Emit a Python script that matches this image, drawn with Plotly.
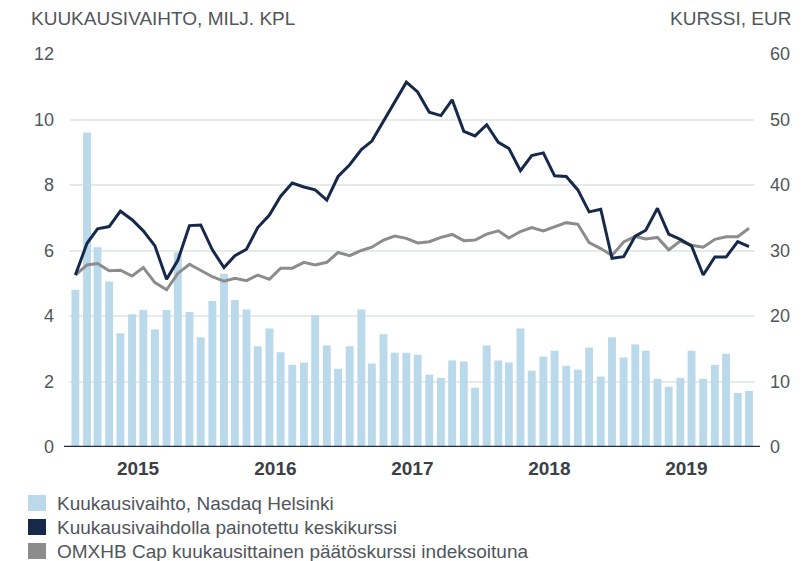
import plotly.graph_objects as go
import pandas as pd

# monthly data, Jan 2015 - Dec 2019
months = [d.strftime("%Y-%m-15") for d in pd.date_range("2015-01-01", "2019-12-01", freq="MS")]

volume = [4.8, 9.6, 6.1, 5.05, 3.47, 4.05, 4.18, 3.59, 4.18, 5.95,
          4.12, 3.35, 4.46, 5.29, 4.49, 4.2, 3.08, 3.62, 2.89, 2.51,
          2.58, 4.02, 3.1, 2.39, 3.08, 4.2, 2.55, 3.44, 2.88, 2.88,
          2.82, 2.21, 2.11, 2.64, 2.61, 1.81, 3.1, 2.64, 2.58, 3.62,
          2.33, 2.76, 2.94, 2.48, 2.36, 3.04, 2.15, 3.35, 2.73, 3.13,
          2.94, 2.08, 1.84, 2.11, 2.94, 2.08, 2.51, 2.85, 1.65, 1.71]

avg_price = [26.25, 31.1, 33.3, 33.65, 36.0, 34.7, 33.0, 30.7, 25.6, 28.5,
             33.8, 33.9, 30.1, 27.4, 29.2, 30.2, 33.5, 35.4, 38.3, 40.3,
             39.7, 39.25, 37.7, 41.3, 43.1, 45.4, 46.7, 49.7, 52.5, 55.7,
             54.2, 51.1, 50.6, 53.0, 48.2, 47.5, 49.2, 46.5, 45.6, 42.2,
             44.5, 44.9, 41.4, 41.3, 39.25, 35.9, 36.3, 28.8, 29.05, 32.2,
             33.1, 36.45, 32.5, 31.7, 30.7, 26.25, 29.0, 29.0, 31.35, 30.6]

omxhb = [26.25, 27.8, 28.0, 26.9, 27.0, 26.1, 27.4, 25.1, 24.0, 26.5,
         27.9, 27.0, 26.0, 25.3, 25.75, 25.4, 26.25, 25.6, 27.3, 27.3,
         28.2, 27.8, 28.2, 29.7, 29.2, 30.0, 30.5, 31.6, 32.2, 31.85,
         31.15, 31.35, 32.0, 32.45, 31.5, 31.6, 32.5, 33.0, 31.9, 32.9,
         33.5, 33.0, 33.6, 34.25, 34.0, 31.2, 30.3, 29.25, 31.3, 32.15,
         31.75, 32.0, 30.1, 31.45, 30.8, 30.5, 31.7, 32.1, 32.1, 33.4]

years = ["2015", "2016", "2017", "2018", "2019"]

legend_names = ["Kuukausivaihto, Nasdaq Helsinki",
                "Kuukausivaihdolla painotettu keskikurssi",
                "OMXHB Cap kuukausittainen päätöskurssi indeksoituna"]

BAR_COLOR = "#bad9eb"
DARK = "#16294a"
GRAY = "#8c8c8c"
TEXT = "#50565c"
FONT = "Liberation Sans"

# page body has an 8px margin, so the figure is made 8px smaller on each side
W, H = 801, 553
ML, MR, MT, MB = 61, 54, 46, 114
PW, PH = W - ML - MR, H - MT - MB   # plot area 686 x 393
OFF = 8


def px(xp):
    # page pixel x -> paper x
    return (xp - OFF - ML) / PW


def py(yp):
    # page pixel y -> paper y
    return (H - MB - (yp - OFF)) / PH


fig = go.Figure()

fig.add_trace(go.Bar(
    x=months, y=volume, name=legend_names[0],
    marker=dict(color=BAR_COLOR, line=dict(width=0)),
    width=21 * 86400000,
    yaxis="y"
))

fig.add_trace(go.Scatter(
    x=months, y=omxhb, name=legend_names[2], mode="lines",
    line=dict(color=GRAY, width=3), yaxis="y2"
))

fig.add_trace(go.Scatter(
    x=months, y=avg_price, name=legend_names[1], mode="lines",
    line=dict(color=DARK, width=3), yaxis="y2"
))

fig.update_layout(
    width=W, height=H,
    margin=dict(l=ML, r=MR, t=MT, b=MB),
    paper_bgcolor="white", plot_bgcolor="white",
    showlegend=False,
    font=dict(family=FONT, color=TEXT, size=18),
    xaxis=dict(
        type="date",
        range=["2014-12-29", "2019-12-31"],
        tickmode="array",
        tickvals=[y + "-07-01" for y in years],
        ticktext=["<b>" + y + "</b>" for y in years],
        tickfont=dict(size=19, color="#3b4046"),
        showgrid=False, zeroline=False, showline=False,
        ticks="", ticklabelstandoff=8,
    ),
    yaxis=dict(
        range=[0, 12], dtick=2, tick0=0,
        showgrid=True, gridcolor="#e5eaea", gridwidth=1.5,
        zeroline=False, showline=False, ticks="",
        ticklabelstandoff=14,
    ),
    yaxis2=dict(
        range=[0, 60], dtick=10, tick0=0,
        overlaying="y", side="right",
        showgrid=False, zeroline=False, showline=False, ticks="",
        ticklabelstandoff=14,
    ),
)

# axis titles and top rule
fig.add_annotation(text="KUUKAUSIVAIHTO, MILJ. KPL", xref="paper", yref="paper",
                   x=px(29), y=py(18), xanchor="left", yanchor="middle",
                   showarrow=False, font=dict(size=19, color=TEXT))
fig.add_annotation(text="KURSSI, EUR", xref="paper", yref="paper",
                   x=px(793), y=py(18), xanchor="right", yanchor="middle",
                   showarrow=False, font=dict(size=19, color=TEXT))
fig.add_shape(type="line", xref="paper", yref="paper",
              x0=px(29), x1=px(795), y0=py(1), y1=py(1),
              line=dict(color="#4b5866", width=1.5))

# baseline
fig.add_shape(type="line", xref="paper", yref="y",
              x0=px(64), x1=px(760), y0=0, y1=0,
              line=dict(color="#1c2f48", width=2.5), layer="above")

# legend drawn by hand to get square keys
legend_colors = [BAR_COLOR, DARK, GRAY]
for i, (name, col) in enumerate(zip(legend_names, legend_colors)):
    yc = 503 + 24 * i
    fig.add_shape(type="rect", xref="paper", yref="paper",
                  x0=px(28), x1=px(46), y0=py(yc + 8), y1=py(yc - 8),
                  fillcolor=col, line=dict(width=0))
    fig.add_annotation(text=name, xref="paper", yref="paper",
                       x=px(55), y=py(yc), xanchor="left", yanchor="middle",
                       showarrow=False, font=dict(size=19, color=TEXT))

fig.write_html("out.html")
